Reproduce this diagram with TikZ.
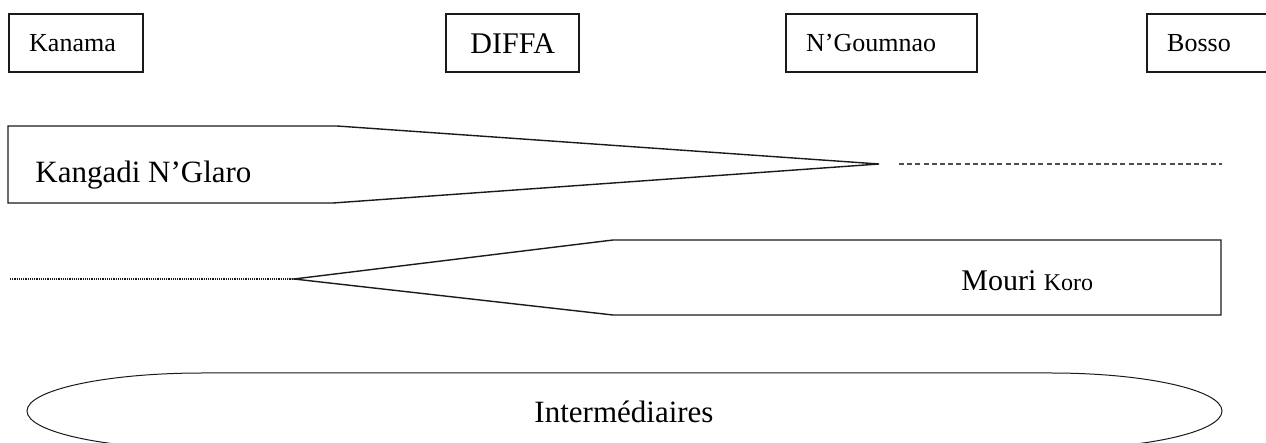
\documentclass[tikz,border=0pt]{standalone}
\usepackage{fontspec}
\setmainfont{Liberation Serif}
\usetikzlibrary{positioning}
\definecolor{Ink}{HTML}{1A1A1A}
\definecolor{Dash}{HTML}{4D4D4D}

\begin{document}
\begin{tikzpicture}[x=0.5pt,y=-0.5pt,
      town/.style={draw=Ink,line width=1.2pt,anchor=north west,minimum height=29pt,
        inner xsep=10pt,inner ysep=0pt,align=left,font=\fontsize{13}{15}\selectfont},
      band/.style={draw=Ink,line width=0.7pt},
      tag/.style={inner sep=0pt,anchor=base west,font=\fontsize{15.5}{18}\selectfont}]
      \clip (0,0) rectangle (1266,443);
      \node[town,text width=47pt] (kanama) at (8,13) {Kanama};
      \node[town,text width=46.5pt,align=center,font=\fontsize{15}{17}\selectfont] (diffa) at (445,13) {DIFFA};
      \node[town,text width=75.5pt] (ngoumnao) at (785,13) {N’Goumnao};
      \node[town,text width=42pt] (bosso) at (1146,13) {Bosso};
      \draw[band] (8,126) -- (337,126) -- (879,164) coordinate (kgtip) -- (333,203) -- (8,203) -- cycle;
      \node[tag] (kangadi) at (35,183) {Kangadi N’Glaro};
      \coordinate (kgend) at (1222,164);
      \draw[Dash,line width=0.8pt,dash pattern=on 2.5pt off 1.6pt,shorten <=10pt] (kgtip) -- (kgend);
      \draw[band] (294,279) coordinate (mktip) -- (613,240) -- (1221,240) -- (1221,315) -- (613,315) -- cycle;
      \node[tag,font=\fontsize{15}{18}\selectfont] (mouri) at (961,291) {Mouri {\fontsize{12}{14}\selectfont Koro}};
      \coordinate (mkend) at (10,279);
      \draw[Ink,line width=1pt,dash pattern=on 0.6pt off 0.5pt] (mkend) -- (mktip);
      \draw[Ink,line width=0.5pt] (202,373) -- (1051,373)
        arc[start angle=90,end angle=-90,x radius=85.5pt,y radius=19pt] -- (202,449)
        arc[start angle=270,end angle=90,x radius=87.5pt,y radius=19pt];
      \node[inner sep=0pt,anchor=base,font=\fontsize{15.5}{18}\selectfont] (inter) at (624,423) {Intermédiaires};
    \end{tikzpicture}
\end{document}
